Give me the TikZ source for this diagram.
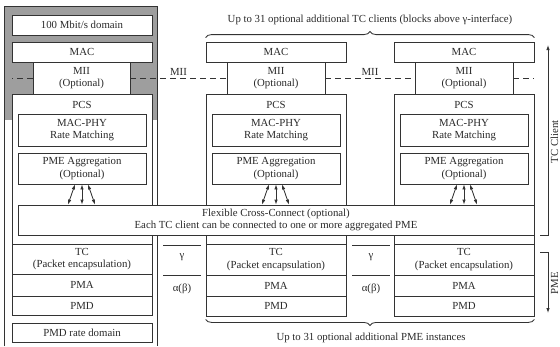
\documentclass[tikz,border=0pt]{standalone}
\usepackage{fontspec}
\setmainfont{Liberation Serif}
\usetikzlibrary{decorations.pathreplacing,arrows.meta,calc}
\definecolor{ln}{HTML}{333333}
\definecolor{tx}{HTML}{2A2A2A}
\definecolor{fr}{HTML}{9E9E9E}
\tikzset{
  box/.style={draw=ln,fill=white,inner sep=0pt,align=center},
  lbl/.style={inner sep=0pt,align=center},
  mii/.style={dash pattern=on 6pt off 4pt},
  dbl/.style={{Latex[length=5pt,width=3.5pt]}-{Latex[length=5pt,width=3.5pt]}},
  sarr/.style={-{Latex[length=5pt,width=3.5pt]}},
  brc/.style={decorate,decoration={brace,amplitude=6pt}}
}
\newcommand{\bx}[6]{\node[box,minimum width={(#4-#2)*1pt},minimum height={(#5-#3)*1pt}] (#1) at ({(#2+#4)/2},{(#3+#5)/2}) {#6};}
\begin{document}
\begin{tikzpicture}[x=1pt,y=-1pt,color=ln,text=tx,line width=0.85pt,
  font=\fontsize{10.8}{12.5}\selectfont]
\useasboundingbox (0,0) rectangle (560,346);
% left column frame
\fill[fr] (4,6) rectangle (157,120);
\draw (4,346) -- (4,6) -- (157,6) -- (157,346);
% left column
\bx{Ldom}{12}{15}{152}{35}{100 Mbit/s domain}
\bx{LMAC}{12}{42}{152}{62}{MAC}
\bx{LMII}{33}{62}{130}{94}{MII\\(Optional)}
\bx{LPCS}{12}{94}{152}{244}{}
\node[lbl] (LPCSt) at (82,105) {PCS};
\bx{LRM}{18}{114}{146}{146}{MAC-PHY\\Rate Matching}
\bx{LAGG}{18}{153}{146}{184}{PME Aggregation\\(Optional)}
% middle column
\bx{MMAC}{206}{42}{346}{62}{MAC}
\bx{MMII}{227}{62}{325}{94}{MII\\(Optional)}
\bx{MPCS}{206}{94}{346}{244}{}
\node[lbl] (MPCSt) at (276,105) {PCS};
\bx{MRM}{212}{114}{340}{146}{MAC-PHY\\Rate Matching}
\bx{MAGG}{212}{153}{340}{184}{PME Aggregation\\(Optional)}
% right column
\bx{RMAC}{394}{42}{534}{62}{MAC}
\bx{RMII}{415}{62}{513}{94}{MII\\(Optional)}
\bx{RPCS}{394}{94}{534}{244}{}
\node[lbl] (RPCSt) at (464,105) {PCS};
\bx{RRM}{400}{114}{528}{146}{MAC-PHY\\Rate Matching}
\bx{RAGG}{400}{153}{528}{184}{PME Aggregation\\(Optional)}
% cross-connect
\bx{CC}{18}{205}{534}{235}{Flexible Cross-Connect (optional)\\Each TC client can be connected to one or more aggregated PME}
% PME rows
\bx{LTC}{12}{244}{152}{274}{TC\\(Packet encapsulation)}
\bx{LPMA}{12}{274}{152}{296}{PMA}
\bx{LPMD}{12}{296}{152}{315}{PMD}
\bx{Lrate}{12}{323}{152}{342}{PMD rate domain}
\bx{MTC}{206}{244}{346}{275}{TC\\(Packet encapsulation)}
\bx{MPMA}{206}{275}{346}{296}{PMA}
\bx{MPMD}{206}{296}{346}{316}{PMD}
\bx{RTC}{394}{244}{534}{275}{TC\\(Packet encapsulation)}
\bx{RPMA}{394}{275}{534}{296}{PMA}
\bx{RPMD}{394}{296}{534}{316}{PMD}
% gamma / alpha columns
\draw (163,245) -- (201,245);
\draw (163,275) -- (201,275);
\node[lbl] (g1) at (182,257) {γ};
\node[lbl] (a1) at (182,289) {α(β)};
\draw (352,245) -- (390,245);
\draw (352,275) -- (390,275);
\node[lbl] (g2) at (371,257) {γ};
\node[lbl] (a2) at (371,289) {α(β)};
% MII dashed lines
\draw[mii] (LMII.west) -- (LMII.west -| LMAC.west);
\draw[mii] (LMII.east) -- node[lbl,above=2pt] (mii1) {MII} (MMII.west);
\draw[mii] (MMII.east) -- node[lbl,above=2pt] (mii2) {MII} (RMII.west);
\draw[mii] (RMII.east) -- (RMII.east -| RMAC.east);
% aggregation arrows
\foreach \c in {L,M,R}{
  \draw[dbl] ($(\c AGG.south)+(-7,0)$) -- ($(\c AGG.south |- CC.north)+(-14,0)$);
  \draw[dbl] (\c AGG.south) -- (\c AGG.south |- CC.north);
  \draw[dbl] ($(\c AGG.south)+(6,0)$) -- ($(\c AGG.south |- CC.north)+(13,0)$);
}
% braces
\draw[brc] ($(MMAC.north west)+(0,-4)$) -- ($(RMAC.north east)+(0,-4)$);
\node[lbl] (topl) at (370,20) {Up to 31 optional additional TC clients (blocks above γ-interface)};
\draw[brc] ($(RPMD.south east)+(0,3)$) -- ($(MPMD.south west)+(0,3)$);
\node[lbl] (botl) at (371,338) {Up to 31 optional additional PME instances};
% right side brackets
\coordinate (tcb) at (540,235);
\coordinate (tct) at (548,45);
\draw[sarr] (tcb) -- (tcb -| tct) -- (tct);
\coordinate (pmt) at (540,252);
\coordinate (pmb) at (548,313);
\draw[sarr] (pmt) -- (pmt -| pmb) -- (pmb);
\node[lbl,rotate=90,anchor=base] (tcl) at (558,142) {TC Client};
\node[lbl,rotate=90,anchor=base] (pmel) at (558,283) {PME};
\end{tikzpicture}
\end{document}
